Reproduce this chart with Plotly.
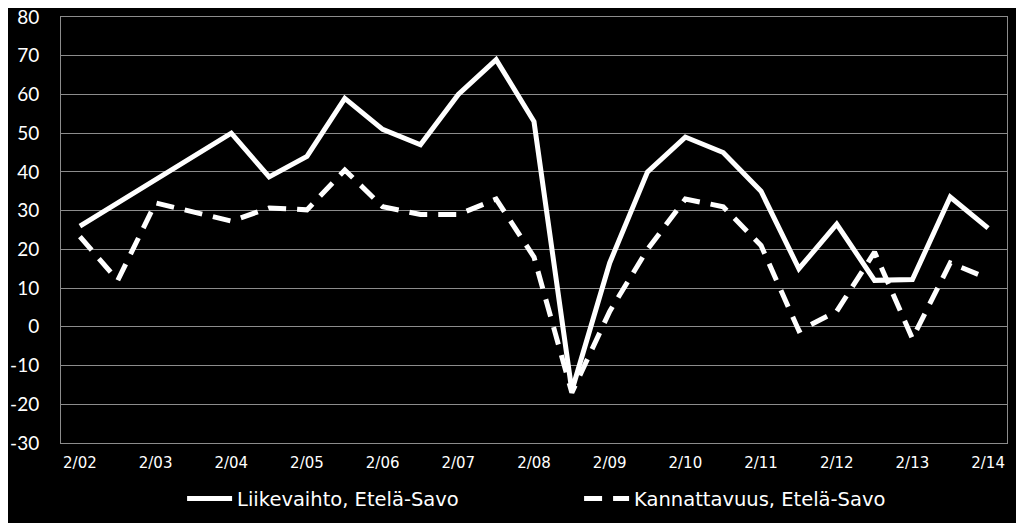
import plotly.graph_objects as go

years = ["02", "03", "04", "05", "06", "07", "08", "09", "10", "11", "12", "13", "14"]
categories = []
for y in years:
    categories.append("2/" + y)
    if y != "14":
        categories.append("9/" + y)

tick_labels = ["2/" + y for y in years]
y_ticks = [-30, -20, -10, 0, 10, 20, 30, 40, 50, 60, 70, 80]
y_tick_text = [str(v) for v in y_ticks]

liikevaihto = [26, 32, 38, 44, 50, 38.7, 44, 59, 51, 47, 60, 69, 53, -16.5, 16.5, 40,
               49, 45, 35, 15, 26.5, 12, 12.2, 33.5, 25.5]
kannattavuus = [23.3, 12, 32, 29.7, 27.3, 30.7, 30.2, 40.5, 31, 29, 29, 33, 18, -17, 4, 20,
                33, 31, 21, -1, 4, 19.3, -3, 16.5, 12.5]

fig = go.Figure()
fig.add_trace(go.Scatter(x=categories, y=liikevaihto, mode="lines",
                         name="Liikevaihto, Etelä-Savo",
                         line=dict(color="white", width=5)))
fig.add_trace(go.Scatter(x=categories, y=kannattavuus, mode="lines",
                         name="Kannattavuus, Etelä-Savo",
                         line=dict(color="white", width=5, dash="18px,11px")))

fig.update_layout(
    width=1024, height=523,
    paper_bgcolor="black", plot_bgcolor="black",
    margin=dict(l=53, r=25, t=9, b=88, autoexpand=False),
    showlegend=True,
    legend=dict(orientation="h", x=0.128, xanchor="left", y=-0.085, yanchor="top",
                font=dict(family="DejaVu Sans", size=19.5, color="white"),
                bgcolor="rgba(0,0,0,0)", entrywidth=337, entrywidthmode="pixels",
                itemwidth=45, tracegroupgap=0),
    xaxis=dict(type="category", categoryorder="array", categoryarray=categories,
               range=[-0.5, 24.5], tickmode="array", tickvals=tick_labels, ticktext=tick_labels,
               showgrid=False, showline=True, linecolor="#8c8c8c", linewidth=1, mirror=True,
               ticks="", tickfont=dict(family="DejaVu Sans", size=15, color="white"),
               zeroline=False, automargin=False, ticklabelstandoff=6),
    yaxis=dict(range=[-30, 80], tickmode="array", tickvals=y_ticks, ticktext=y_tick_text,
               showgrid=True, gridcolor="#8c8c8c",
               gridwidth=1, showline=True, linecolor="#8c8c8c", linewidth=1, mirror=True,
               ticks="", tickfont=dict(family="Lato", size=19, color="white"),
               zeroline=False, ticklabelstandoff=17, automargin=False,
               ticklabeloverflow="allow"),
)

fig.write_html("out.html")
